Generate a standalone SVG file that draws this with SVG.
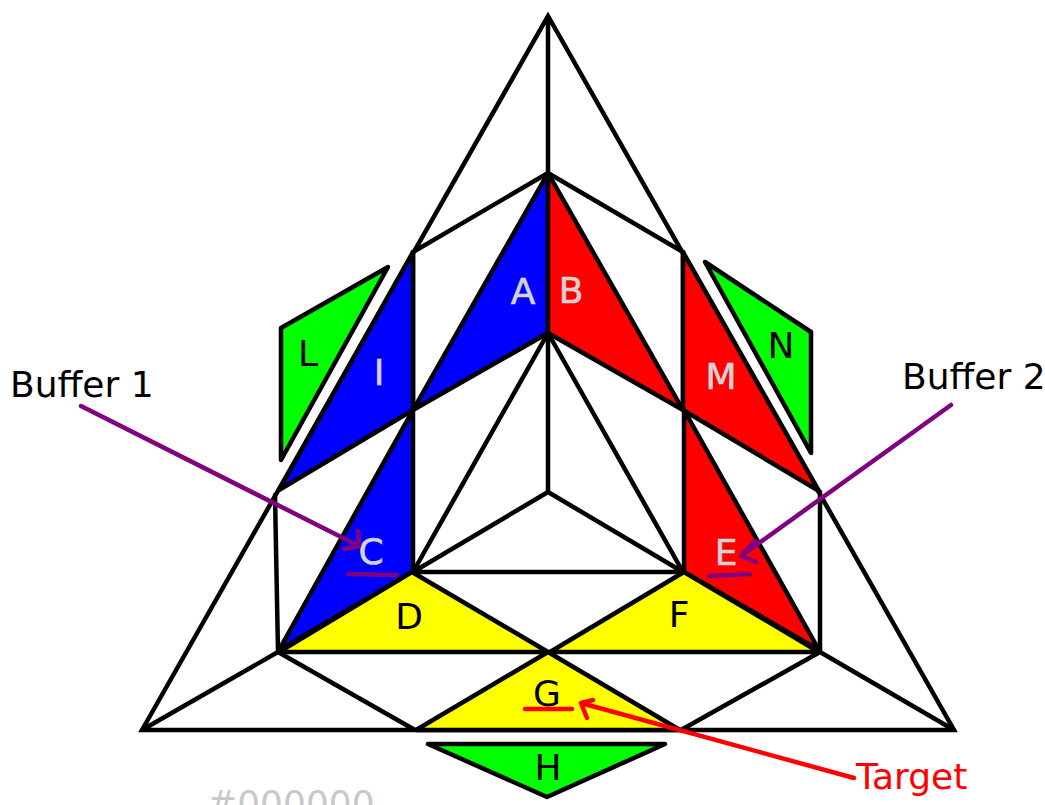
<svg xmlns="http://www.w3.org/2000/svg" width="1045" height="805" viewBox="0 0 1045 805">
<style>
text{font-family:"DejaVu Sans",sans-serif;font-size:36px}
.t{stroke:#000;stroke-width:4.5;stroke-linejoin:round;stroke-linecap:round}
.l{fill:none;stroke:#000;stroke-width:4.5;stroke-linecap:round}
.b{fill:#0000ff}.r{fill:#ff0000}.y{fill:#ffff00}.g{fill:#00ff00}
.dark{fill:#000;text-anchor:middle}.light{fill:#d3d3d3;stroke:#d3d3d3;stroke-width:.6;text-anchor:middle}
.p{fill:none;stroke:#800080;stroke-width:4.5;stroke-linecap:round;stroke-linejoin:round}
.q{fill:none;stroke:#ff0000;stroke-width:4.5;stroke-linecap:round;stroke-linejoin:round}
</style>
<rect width="1045" height="805" fill="#fff"/>
<g id="wireframe">
<path class="l" d="M142 730L548 16L954 730ZM548 16V492M548 173L413 252V410M548 173L683 252V410M548 333L413 572M548 333L683 572M548 492L413 572M548 492L683 572M413 572H683M275 495L278 652M820 492L820 652M278 652L142 730M820 652L954 730M278 652L415 730M820 652L681 730"/>
</g>
<g id="node-A"><path class="t b" d="M548 173V333L413 410Z"/><text class="light" x="523" y="304">A</text></g>
<g id="node-B"><path class="t r" d="M548 173V333L683 410Z"/><text class="light" x="571" y="303">B</text></g>
<g id="node-I"><path class="t b" d="M413 252V410L279 490Z"/><text class="light" x="379" y="385">I</text></g>
<g id="node-C"><path class="t b" d="M413 410V572L279 650Z"/><text class="light" x="371" y="564">C</text></g>
<g id="node-D"><path class="t y" d="M412 572L548 652H279Z"/><text class="dark" x="409" y="629">D</text></g>
<g id="node-M"><path class="t r" d="M683 252V410L819 491Z"/><text class="light" x="721" y="389">M</text></g>
<g id="node-E"><path class="t r" d="M684 410V572L819 650Z"/><text class="light" x="726" y="565">E</text></g>
<g id="node-F"><path class="t y" d="M684 572L819 652H550Z"/><text class="dark" x="679" y="627">F</text></g>
<g id="node-G"><path class="t y" d="M548 652L680 730H416Z"/><text class="dark" x="547" y="706">G</text></g>
<g id="node-H"><path class="t g" d="M428 744H665L547 797Z"/><text class="dark" x="548" y="780">H</text></g>
<g id="node-L"><path class="t g" d="M388 267L281 328V460Z"/><text class="dark" x="308" y="366">L</text></g>
<g id="node-N"><path class="t g" d="M705 262L811 332V453Z"/><text class="dark" x="781" y="358">N</text></g>
<g id="connectors">
<path class="p" d="M81 406L359 546M358 531L359 546L344 549M348 574L397 575"/>
<path class="p" d="M951 405L741 556M755 541L741 556L756 562M709 576L750 574"/>
<path class="q" d="M854 778L581 703M593 700L581 703L587 718M525 709H572"/>
</g>
<g id="labels">
<text x="10" y="397" fill="#000">Buffer 1</text>
<text x="902" y="389" fill="#000">Buffer 2</text>
<text x="856" y="789" fill="#ff0000">Target</text>
<text x="207" y="816" fill="#c8c8c8">#000000</text>
</g>
</svg>
